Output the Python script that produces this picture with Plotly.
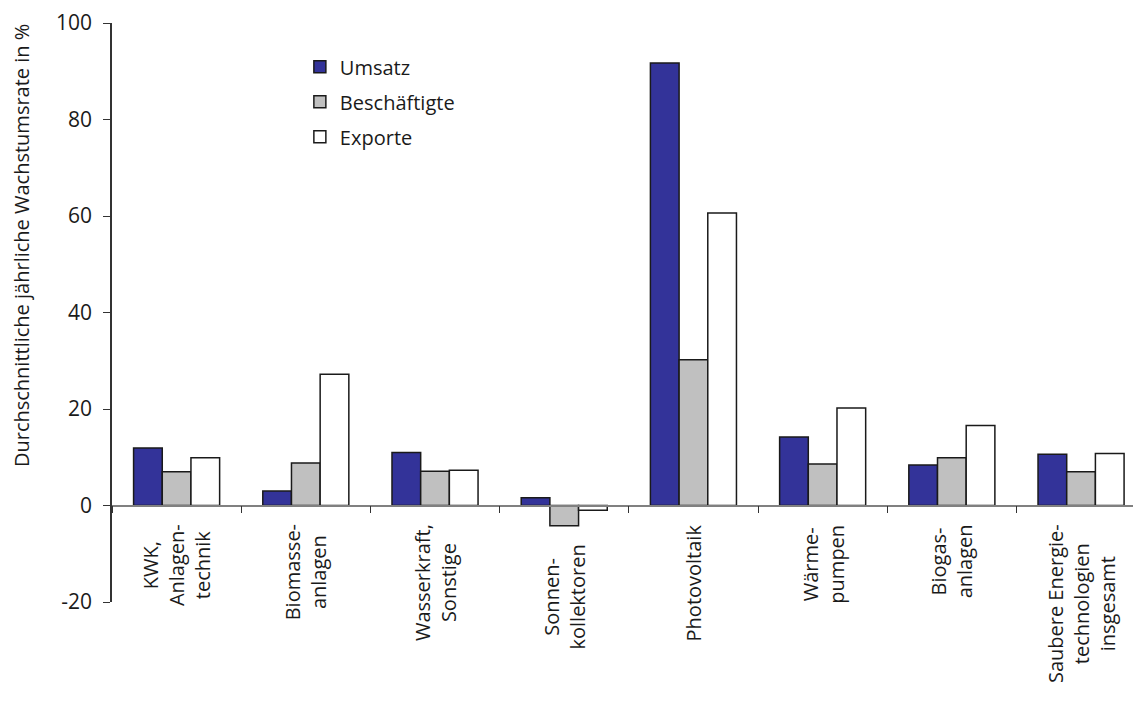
import plotly.graph_objects as go

categories = ["KWK,<br>Anlagen-<br>technik", "Biomasse-<br>anlagen", "Wasserkraft,<br>Sonstige",
              "Sonnen-<br>kollektoren", "Photovoltaik", "Wärme-<br>pumpen", "Biogas-<br>anlagen",
              "Saubere Energie-<br>technologien<br>insgesamt"]
cat_keys = ["KWK", "Biomasse", "Wasserkraft", "Sonnen", "Photovoltaik", "Waerme", "Biogas", "Saubere"]
umsatz = [11.9, 3.0, 11.0, 1.6, 91.7, 14.2, 8.4, 10.6]
beschaeftigte = [7.0, 8.8, 7.1, -4.2, 30.2, 8.6, 9.9, 7.0]
exporte = [9.9, 27.2, 7.3, -1.0, 60.6, 20.2, 16.6, 10.8]
series_names = ["Umsatz", "Beschäftigte", "Exporte"]
y_ticks = [-20, 0, 20, 40, 60, 80, 100]
y_ticktext = ["-20", "0", "20", "40", "60", "80", "100"]

FONT = "Open Sans"
colors = ["#333399", "#c0c0c0", "#ffffff"]

fig = go.Figure()
for name, vals, col in zip(series_names, [umsatz, beschaeftigte, exporte], colors):
    fig.add_trace(go.Bar(x=cat_keys, y=vals, name=name, legendgroup=name,
                         marker=dict(color=col, line=dict(color="#1a1a1a", width=1.5))))

for i, (key, lab) in enumerate(zip(cat_keys, categories)):
    low = min(0, umsatz[i], beschaeftigte[i], exporte[i])
    fig.add_annotation(x=key, y=low, xref="x", yref="y", text=lab, textangle=-90,
                       showarrow=False, xanchor="center", yanchor="top", yshift=-17,
                       align="center", font=dict(family=FONT, size=20, color="#1a1a1a"))

fig.add_annotation(x=-0.088, y=0.615, xref="paper", yref="paper",
                   text="Durchschnittliche jährliche Wachstumsrate in %", textangle=-90,
                   showarrow=False, xanchor="center", yanchor="middle",
                   font=dict(family=FONT, size=20, color="#1a1a1a"))

fig.update_layout(
    width=1133, height=709,
    margin=dict(l=112, r=0, t=23, b=107),
    paper_bgcolor="white", plot_bgcolor="white",
    barmode="group", bargap=0.334, bargroupgap=0,
    font=dict(family=FONT, size=20, color="#1a1a1a"),
    legend=dict(x=0.184, y=0.958, xanchor="left", yanchor="top",
                bgcolor="rgba(0,0,0,0)", tracegroupgap=6, itemwidth=30,
                font=dict(family=FONT, size=20, color="#1a1a1a")),
    xaxis=dict(range=[-0.5, 7.402], anchor="free", position=1/6,
               showline=True, linecolor="#808080", linewidth=1.5,
               ticks="outside", tickson="boundaries", ticklen=7, tickcolor="#333333",
               showticklabels=False, showgrid=False, zeroline=False),
    yaxis=dict(range=[-20, 100], tickvals=y_ticks, ticktext=y_ticktext, showline=True,
               linecolor="#333333", linewidth=1.5, ticks="outside", ticklen=7,
               tickcolor="#333333", ticklabelstandoff=7,
               showgrid=False, zeroline=False,
               tickfont=dict(family=FONT, size=21, color="#1a1a1a")),
    showlegend=True,
)

fig.write_html("out.html")
